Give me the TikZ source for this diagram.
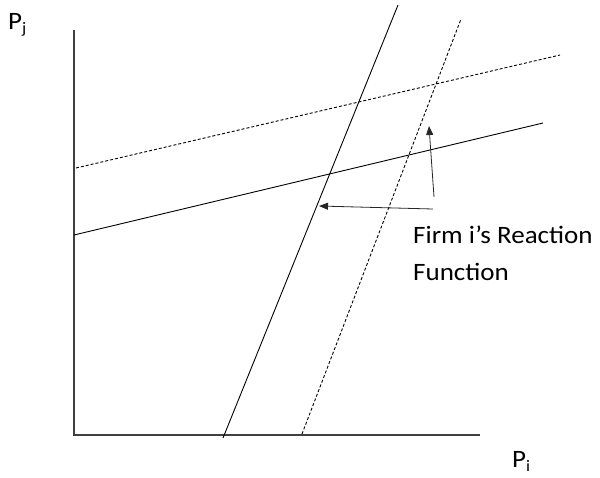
\documentclass[tikz,border=0pt]{standalone}
\usepackage{fontspec}
\setmainfont{Carlito}
\usetikzlibrary{arrows.meta}
\tikzset{
  curve/.style={line width=0.9pt, black},
  dotcurve/.style={line width=0.9pt, black, dash pattern=on 3pt off 2pt},
  axisline/.style={line width=1.1pt, black!75},
  pointer/.style={line width=0.8pt, black!85, -{Triangle[length=9pt,width=7pt]}},
  lbl/.style={inner sep=0pt, anchor=base west, font=\fontsize{25}{30}\selectfont},
}
\begin{document}
\begin{tikzpicture}[x=1pt,y=-1pt]
\useasboundingbox (0,0) rectangle (600,477);
% axes
\coordinate (o) at (74,435);
\coordinate (ytop) at (74,30);
\coordinate (xend) at (480,435);
\draw[axisline] (ytop) -- (o) -- (xend);
% firm j reaction functions (shallow)
\coordinate (s1a) at (74,235);
\coordinate (s1b) at (543,123);
\draw[curve] (s1a) -- (s1b);
\coordinate (s2a) at (76,168);
\coordinate (s2b) at (560,55);
\draw[dotcurve] (s2a) -- (s2b);
% firm i reaction functions (steep)
\coordinate (r1a) at (223,438);
\coordinate (r1b) at (398,5);
\draw[curve] (r1a) -- (r1b);
\coordinate (r2a) at (302,434);
\coordinate (r2b) at (461,19);
\draw[dotcurve] (r2a) -- (r2b);
% labels
\node[lbl] (pj) at (8,29) {\scalebox{1.08}[1]{P\raisebox{-4.5pt}{\fontsize{16}{16}\selectfont j}}};
\node[lbl] (pi) at (512,467) {\scalebox{1.08}[1]{P\raisebox{-4pt}{\fontsize{16}{16}\selectfont i}}};
\node[lbl] (l1) at (413,243) {\scalebox{1.08}[1]{Firm i’s Reaction}};
\node[lbl] (l2) at (413,280) {\scalebox{1.08}[1]{Function}};
% pointers
\coordinate (p1t) at (433,209);
\coordinate (p1h) at (319,206);
\draw[pointer] (p1t) -- (p1h);
\coordinate (p2t) at (434,197);
\coordinate (p2h) at (429,126);
\draw[pointer] (p2t) -- (p2h);
\end{tikzpicture}
\end{document}
